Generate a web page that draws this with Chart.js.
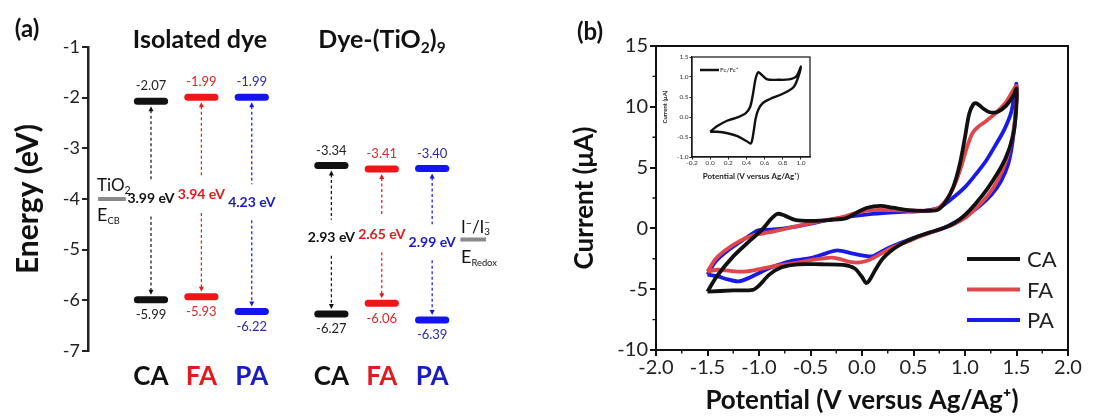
<!DOCTYPE html>
<html><head><meta charset="utf-8">
<script src="https://cdn.jsdelivr.net/npm/chart.js@4.4.1/dist/chart.umd.min.js"></script>
<style>
html,body{margin:0;padding:0;background:#fff;}
body{width:1110px;height:417px;overflow:hidden;position:relative;font-family:Lato,'Open Sans',sans-serif;color:#111;}
canvas{position:absolute;}
.t{position:absolute;white-space:nowrap;line-height:1;transform:translate(-50%,-50%);}
.l{position:absolute;white-space:nowrap;line-height:1;transform:translate(0,-50%);}
sub{font-size:62%;vertical-align:-0.35em;line-height:0;}
sup{font-size:62%;vertical-align:0.55em;line-height:0;}
</style></head><body>
<canvas id="ca" width="560" height="417" style="left:0;top:0;width:560px;height:417px"></canvas>
<canvas id="cb" width="550" height="417" style="left:560px;top:0;width:550px;height:417px"></canvas>
<canvas id="ci" width="165" height="135" style="left:655px;top:50px;width:165px;height:135px"></canvas>

<div class="t" style="left:27px;top:27px;font:bold 24px Lato">(a)</div>
<div class="t" style="left:590px;top:30px;font:bold 24px Lato">(b)</div>
<div class="t" id="g0" style="left:200px;top:38px;font:bold 25px Lato"></div>
<div class="t" id="g1" style="left:382px;top:38px;font:bold 25px Lato"></div>
<div class="l" style="left:97px;top:184px;font:17px Lato">TiO<sub>2</sub></div>
<div class="l" style="left:97px;top:214px;font:18px Lato">E<sub style="font-size:52%">CB</sub></div>
<div class="l" style="left:461px;top:226px;font:17px Lato">I<sup>−</sup>/I<span style="display:inline-block;font-size:58%;line-height:0.95;vertical-align:-0.2em;text-align:left">−<br>3</span></div>
<div class="l" style="left:461px;top:256px;font:18px Lato">E<sub style="font-size:52%">Redox</sub></div>

<script>
// ---------- Panel (a): energy levels ----------
const categories = ['CA', 'FA', 'PA'];
const groupTitles = ['Isolated dye', 'Dye-(TiO<sub>2</sub>)<sub>9</sub>'];
const lumoIsolated = [-2.07, -1.99, -1.99];
const homoIsolated = [-5.99, -5.93, -6.22];
const gapIsolated  = [3.99, 3.94, 4.23];
const lumoComplex  = [-3.34, -3.41, -3.40];
const homoComplex  = [-6.27, -6.06, -6.39];
const gapComplex   = [2.93, 2.65, 2.99];
const energyTicks  = [-1, -2, -3, -4, -5, -6, -7];
const tio2CB = -4.0;
const redoxLevel = -4.8;

// ---------- Panel (b): cyclic voltammograms [V, µA] ----------
const cvCA = [[-1.50,-5.2],[-1.41,-3.95],[-1.25,-2.3],[-1.08,-0.95],[-0.97,-0.1],[-0.88,0.8],[-0.82,1.2],[-0.75,1.05],[-0.65,0.7],[-0.5,0.62],[-0.3,0.7],[-0.15,0.85],[-0.05,1.3],[0.05,1.7],[0.18,1.85],[0.3,1.7],[0.45,1.5],[0.65,1.45],[0.74,1.55],[0.82,2.3],[0.89,3.5],[0.95,5.3],[1.0,7.5],[1.04,9.4],[1.08,10.2],[1.11,10.3],[1.17,9.9],[1.24,9.55],[1.32,9.6],[1.40,10.1],[1.47,10.9],[1.50,11.5],
  [1.49,9.0],[1.46,7.4],[1.40,5.9],[1.32,4.6],[1.22,3.3],[1.10,2.0],[1.00,1.1],[0.90,0.45],[0.80,0.05],[0.65,-0.35],[0.50,-0.8],[0.38,-1.3],[0.28,-1.85],[0.20,-2.5],[0.13,-3.4],[0.07,-4.3],[0.04,-4.5],[0.0,-4.0],[-0.07,-3.3],[-0.18,-3.0],[-0.4,-2.95],[-0.62,-2.95],[-0.78,-3.2],[-0.9,-3.8],[-1.0,-4.7],[-1.06,-5.05],[-1.25,-5.1],[-1.50,-5.2]];
const cvFA = [[-1.50,-3.55],[-1.42,-2.5],[-1.32,-1.75],[-1.18,-1.0],[-1.05,-0.55],[-0.95,-0.4],[-0.8,-0.15],[-0.6,0.25],[-0.4,0.6],[-0.2,0.9],[-0.05,1.3],[0.1,1.5],[0.3,1.5],[0.5,1.45],[0.68,1.5],[0.76,1.8],[0.84,2.6],[0.9,3.6],[0.96,5.0],[1.02,6.7],[1.07,7.8],[1.12,8.3],[1.2,8.8],[1.3,9.5],[1.4,10.4],[1.5,11.7],
  [1.49,9.5],[1.46,7.5],[1.40,5.6],[1.32,4.0],[1.22,2.7],[1.10,1.6],[1.00,0.85],[0.88,0.3],[0.75,-0.1],[0.6,-0.55],[0.45,-1.05],[0.3,-1.55],[0.18,-2.1],[0.08,-2.55],[-0.02,-2.8],[-0.12,-2.75],[-0.22,-2.5],[-0.3,-2.4],[-0.45,-2.55],[-0.65,-2.85],[-0.85,-3.1],[-1.05,-3.45],[-1.15,-3.55],[-1.28,-3.5],[-1.40,-3.4],[-1.50,-3.55]];
const cvPA = [[-1.50,-3.8],[-1.42,-2.7],[-1.3,-1.8],[-1.18,-1.1],[-1.06,-0.4],[-1.0,-0.15],[-0.9,-0.1],[-0.75,0.0],[-0.55,0.3],[-0.35,0.65],[-0.15,0.95],[0.1,1.2],[0.35,1.35],[0.6,1.45],[0.75,1.7],[0.88,2.5],[1.0,3.4],[1.1,4.4],[1.2,5.5],[1.3,6.9],[1.38,8.1],[1.45,9.6],[1.5,11.9],
  [1.49,9.3],[1.46,7.0],[1.42,5.3],[1.35,3.9],[1.26,2.8],[1.15,1.9],[1.02,1.1],[0.9,0.5],[0.78,0.0],[0.62,-0.45],[0.45,-0.95],[0.3,-1.45],[0.18,-1.95],[0.1,-2.3],[0.02,-2.25],[-0.1,-2.05],[-0.24,-1.8],[-0.35,-2.05],[-0.5,-2.45],[-0.7,-2.7],[-0.88,-3.2],[-1.02,-3.75],[-1.12,-4.15],[-1.2,-4.35],[-1.3,-4.2],[-1.4,-3.95],[-1.50,-3.8]];
const cvLabels = ['CA', 'FA', 'PA'];
const potentialTicks = [-2.0, -1.5, -1.0, -0.5, 0.0, 0.5, 1.0, 1.5, 2.0];
const currentTicks = [-10, -5, 0, 5, 10, 15];

// ---------- Inset: Fc/Fc+ ----------
const cvFc = [[0.0,-0.37],[0.07,-0.24],[0.18,-0.1],[0.3,-0.01],[0.39,0.09],[0.44,0.25],[0.47,0.55],[0.5,0.95],[0.53,1.12],[0.57,1.05],[0.63,0.94],[0.75,0.93],[0.87,0.94],[0.95,1.02],[1.0,1.26],
  [0.97,1.0],[0.92,0.75],[0.8,0.58],[0.66,0.45],[0.58,0.35],[0.53,0.18],[0.5,-0.05],[0.48,-0.35],[0.45,-0.66],[0.4,-0.6],[0.3,-0.48],[0.18,-0.4],[0.08,-0.37],[0.0,-0.37]];
const fcLabel = 'Fc/Fc⁺';

// ---------- styling ----------
const levelColors = ['#111111', '#ee1616', '#1414ee'];
const textColors  = ['#111111', '#e3191f', '#1a1ac8'];
const valueColors = ['#222222', '#d42a2a', '#2a2aa8'];
const cvColors    = ['#111111', '#e0474c', '#1a1ae6'];
const refColor = '#8a8a8a';

Chart.defaults.font.family = 'Lato';
Chart.defaults.animation = false;

document.getElementById('g0').innerHTML = groupTitles[0];
document.getElementById('g1').innerHTML = groupTitles[1];

// layout of category slots on panel (a)
const groupStart = [1.25, 4.83];
const halfW = 0.27;
const refSpan = {tio2: [0.2, 0.75], redox: [7.39, 7.9]};
const groups = [
  {lumo: lumoIsolated, homo: homoIsolated, gap: gapIsolated},
  {lumo: lumoComplex, homo: homoComplex, gap: gapComplex}
];

const dsA = [];
groups.forEach((g, gi) => {
  categories.forEach((c, ci) => {
    const xc = groupStart[gi] + ci;
    [g.lumo[ci], g.homo[ci]].forEach(v => dsA.push({
      data: [{x: xc - halfW, y: v}, {x: xc + halfW, y: v}],
      borderColor: levelColors[ci], borderWidth: 7, borderCapStyle: 'round',
      pointRadius: 0, showLine: true
    }));
  });
});
[[tio2CB, refSpan.tio2], [redoxLevel, refSpan.redox]].forEach(([v, span]) => dsA.push({
  data: [{x: span[0], y: v}, {x: span[1], y: v}],
  borderColor: refColor, borderWidth: 4, pointRadius: 0, showLine: true
}));

const levelPlugin = {
  id: 'levelText',
  afterDatasetsDraw(chart) {
    const {ctx, scales: {x, y}, chartArea} = chart;
    ctx.save();
    ctx.textAlign = 'center'; ctx.textBaseline = 'middle';
    groups.forEach((g, gi) => {
      categories.forEach((cat, ci) => {
        const px = x.getPixelForValue(groupStart[gi] + ci);
        const yL = y.getPixelForValue(g.lumo[ci]);
        const yH = y.getPixelForValue(g.homo[ci]);
        const yM = (yL + yH) / 2 - 2;
        ctx.fillStyle = valueColors[ci];
        ctx.font = '13px Lato';
        ctx.fillText(g.lumo[ci].toFixed(2), px, yL - 15);
        ctx.fillText(g.homo[ci].toFixed(2), px, yH + 15);
        // dashed double arrow
        ctx.strokeStyle = levelColors[ci]; ctx.lineWidth = 1.2;
        ctx.setLineDash([3, 2.5]);
        ctx.beginPath();
        ctx.moveTo(px, yL + 9); ctx.lineTo(px, yM - 18);
        ctx.moveTo(px, yM + 18); ctx.lineTo(px, yH - 9);
        ctx.stroke();
        ctx.setLineDash([]);
        ctx.fillStyle = levelColors[ci];
        ctx.beginPath();
        ctx.moveTo(px, yL + 5); ctx.lineTo(px - 2.5, yL + 10); ctx.lineTo(px + 2.5, yL + 10); ctx.closePath(); ctx.fill();
        ctx.beginPath();
        ctx.moveTo(px, yH - 5); ctx.lineTo(px - 2.5, yH - 10); ctx.lineTo(px + 2.5, yH - 10); ctx.closePath(); ctx.fill();
        // gap label
        ctx.fillStyle = textColors[ci];
        ctx.font = 'bold 14px Lato';
        ctx.fillText(g.gap[ci].toFixed(2) + ' eV', px, yM);
        // category label
        ctx.font = 'bold 26px Lato';
        ctx.fillText(cat, px, chartArea.bottom + 26);
      });
    });
    ctx.restore();
  }
};

new Chart(document.getElementById('ca'), {
  type: 'scatter',
  data: {datasets: dsA},
  options: {
    responsive: false, animation: false,
    layout: {padding: {left: 10, top: 47, right: 18.5, bottom: 66}},
    plugins: {legend: {display: false}, tooltip: {enabled: false}},
    scales: {
      x: {type: 'linear', min: 0, max: 9, display: false},
      y: {
        type: 'linear', min: Math.min(...energyTicks), max: Math.max(...energyTicks),
        afterBuildTicks(s) { s.ticks = energyTicks.map(v => ({value: v})); },
        afterFit(s) { s.width = 78; },
        ticks: {font: {size: 18}, color: '#222', padding: 2, callback: v => String(v)},
        grid: {drawOnChartArea: false, tickLength: 6, color: '#222', lineWidth: 2},
        border: {color: '#222', width: 2.5},
        title: {display: true, text: 'Energy (eV)', font: {size: 30, weight: 'bold'}, color: '#111', padding: {top: 0, bottom: 0}}
      }
    }
  },
  plugins: [levelPlugin]
});

// ---------- panel (b) ----------
const frameAndMinor = (minorX, minorY, len) => ({
  id: 'frame',
  afterDraw(chart) {
    const {ctx, chartArea: a, scales: {x, y}} = chart;
    ctx.save();
    ctx.strokeStyle = '#111'; ctx.lineWidth = chart.options.frameWidth || 2;
    ctx.strokeRect(a.left, a.top, a.right - a.left, a.bottom - a.top);
    ctx.lineWidth = (chart.options.frameWidth || 2) * 0.7;
    ctx.beginPath();
    minorX.forEach(v => { const p = x.getPixelForValue(v); ctx.moveTo(p, a.bottom); ctx.lineTo(p, a.bottom + len); });
    minorY.forEach(v => { const p = y.getPixelForValue(v); ctx.moveTo(a.left, p); ctx.lineTo(a.left - len, p); });
    ctx.stroke();
    ctx.restore();
  }
});

const mids = arr => arr.slice(0, -1).map((v, i) => (v + arr[i + 1]) / 2);

const cvLegend = {
  id: 'cvLegend',
  afterDraw(chart) {
    const {ctx, chartArea: a} = chart;
    ctx.save();
    ctx.font = '22px Lato'; ctx.textBaseline = 'middle'; ctx.textAlign = 'left';
    cvLabels.forEach((lab, i) => {
      const yy = a.top + 213 + i * 30.5;
      ctx.strokeStyle = cvColors[i]; ctx.lineWidth = 4;
      ctx.beginPath(); ctx.moveTo(a.left + 311, yy); ctx.lineTo(a.left + 364, yy); ctx.stroke();
      ctx.fillStyle = '#222';
      ctx.fillText(lab, a.left + 371, yy + 1);
    });
    ctx.restore();
  }
};

new Chart(document.getElementById('cb'), {
  type: 'scatter',
  data: {
    datasets: [cvCA, cvFA, cvPA].map((d, i) => ({
      label: cvLabels[i], data: d.map(p => ({x: p[0], y: p[1]})),
      borderColor: cvColors[i], borderWidth: 3.8, pointRadius: 0, showLine: true, tension: 0.3,
      borderJoinStyle: 'round'
    }))
  },
  options: {
    responsive: false, animation: false,
    layout: {padding: {left: 6, top: 46, right: 42, bottom: 0}},
    plugins: {legend: {display: false}, tooltip: {enabled: false}},
    scales: {
      x: {
        type: 'linear', min: potentialTicks[0], max: potentialTicks[potentialTicks.length - 1],
        afterBuildTicks(s) { s.ticks = potentialTicks.map(v => ({value: v})); },
        afterFit(s) { s.height = 67; },
        ticks: {font: {size: 20}, color: '#222', padding: 0, callback: v => v.toFixed(1), maxRotation: 0, autoSkip: false},
        grid: {drawOnChartArea: false, tickLength: 6, color: '#111', lineWidth: 2},
        border: {color: '#111', width: 2},
        title: {display: true, text: 'Potential (V versus Ag/Ag⁺)', font: {size: 26, weight: 'bold'}, color: '#111', padding: {top: 0, bottom: 1}}
      },
      y: {
        type: 'linear', min: currentTicks[0], max: currentTicks[currentTicks.length - 1],
        afterBuildTicks(s) { s.ticks = currentTicks.map(v => ({value: v})); },
        afterFit(s) { s.width = 90; },
        ticks: {font: {size: 20}, color: '#222', padding: 2},
        grid: {drawOnChartArea: false, tickLength: 6, color: '#111', lineWidth: 2},
        border: {color: '#111', width: 2},
        title: {display: true, text: 'Current (μA)', font: {size: 26, weight: 'bold'}, color: '#111', padding: {top: 3, bottom: 0}}
      }
    }
  },
  plugins: [frameAndMinor(mids(potentialTicks), mids(currentTicks), 3.5), cvLegend]
});

// ---------- inset ----------
const insetXTicks = [-0.2, 0.0, 0.2, 0.4, 0.6, 0.8, 1.0];
const insetYTicks = [-1.0, -0.5, 0.0, 0.5, 1.0, 1.5];
const insetLegend = {
  id: 'insetLegend',
  afterDraw(chart) {
    const {ctx, chartArea: a} = chart;
    ctx.save();
    ctx.strokeStyle = '#111'; ctx.lineWidth = 2.5;
    ctx.beginPath(); ctx.moveTo(a.left + 8, a.top + 13); ctx.lineTo(a.left + 27, a.top + 13); ctx.stroke();
    ctx.fillStyle = '#222'; ctx.font = '6.5px Lato'; ctx.textBaseline = 'middle';
    ctx.fillText(fcLabel, a.left + 28, a.top + 13);
    ctx.restore();
  }
};
new Chart(document.getElementById('ci'), {
  type: 'scatter',
  data: {datasets: [{label: fcLabel, data: cvFc.map(p => ({x: p[0], y: p[1]})), borderColor: '#111', borderWidth: 2.4, pointRadius: 0, showLine: true, tension: 0.3}]},
  options: {
    responsive: false, animation: false, frameWidth: 1.2,
    layout: {padding: {left: 0, top: 7, right: 10, bottom: 0}},
    plugins: {legend: {display: false}, tooltip: {enabled: false}},
    scales: {
      x: {
        type: 'linear', min: -0.2, max: 1.1,
        afterBuildTicks(s) { s.ticks = insetXTicks.map(v => ({value: v})); },
        afterFit(s) { s.height = 28; },
        ticks: {font: {size: 6.5}, color: '#333', padding: 0, callback: v => v.toFixed(1), maxRotation: 0, autoSkip: false},
        grid: {drawOnChartArea: false, tickLength: 2.5, color: '#222', lineWidth: 1},
        border: {color: '#222', width: 1.2},
        title: {display: true, text: 'Potential (V versus Ag/Ag⁺)', font: {size: 8, weight: 'bold'}, color: '#222', padding: {top: 0, bottom: 4}}
      },
      y: {
        type: 'linear', min: -1.0, max: 1.5,
        afterBuildTicks(s) { s.ticks = insetYTicks.map(v => ({value: v})); },
        afterFit(s) { s.width = 37; },
        ticks: {font: {size: 6.5}, color: '#333', padding: 1, callback: v => v.toFixed(1)},
        grid: {drawOnChartArea: false, tickLength: 2.5, color: '#222', lineWidth: 1},
        border: {color: '#222', width: 1.2},
        title: {display: true, text: 'Current (μA)', font: {size: 6, weight: 'bold'}, color: '#222', padding: {top: 6, bottom: 0}}
      }
    }
  },
  plugins: [frameAndMinor([], [], 0), insetLegend]
});
</script>
</body></html>
